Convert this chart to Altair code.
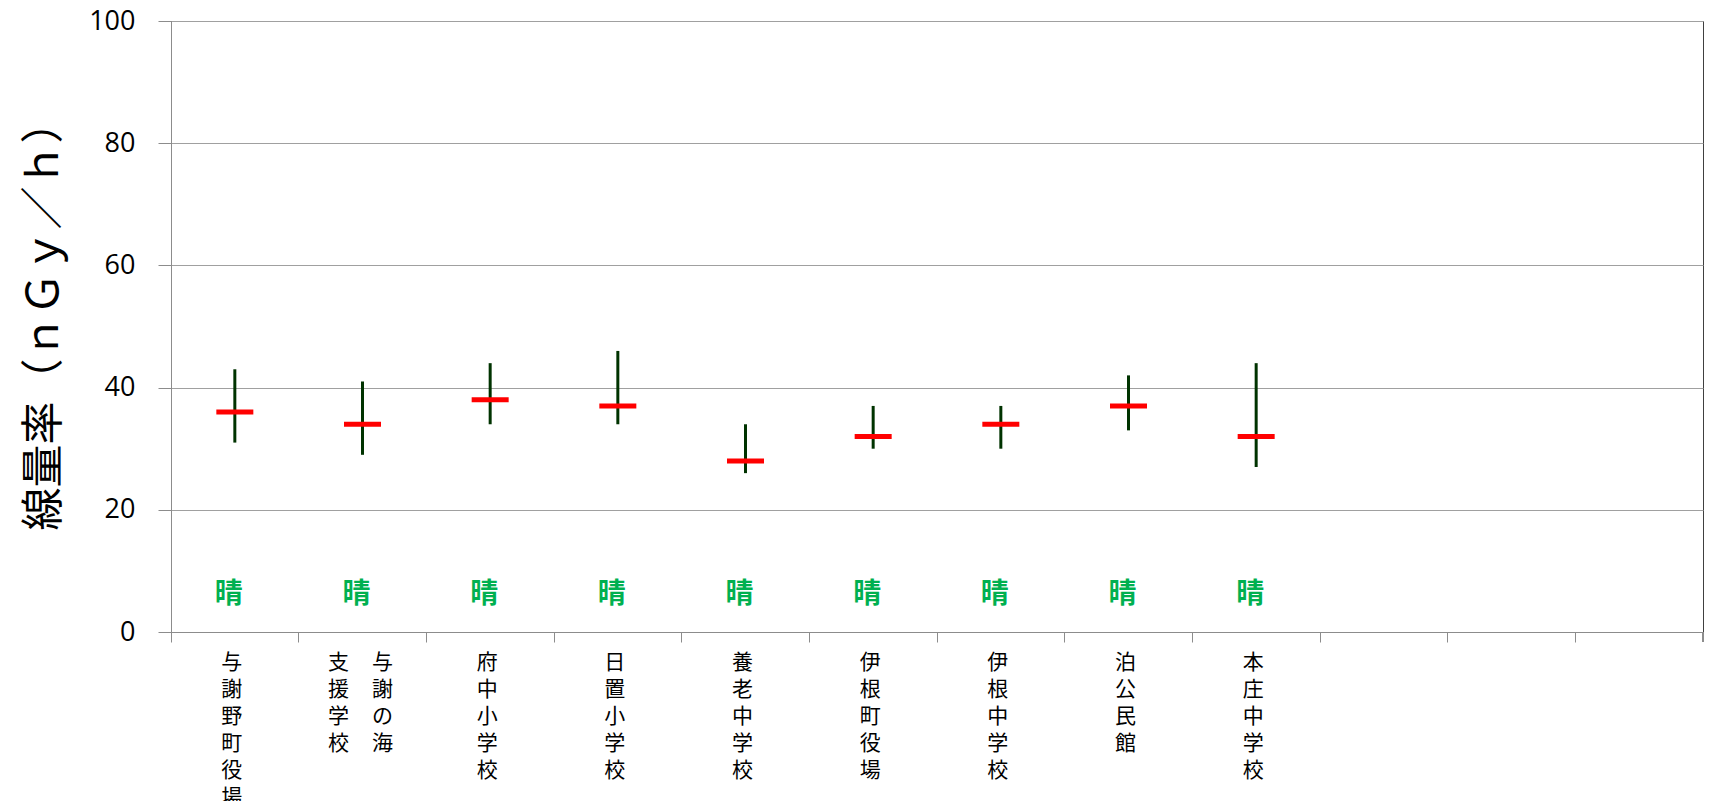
import altair as alt
import pandas as pd

sites = ["与謝野町役場", "与謝の海支援学校", "府中小学校", "日置小学校", "養老中学校",
         "伊根町役場", "伊根中学校", "泊公民館", "本庄中学校"]
blank_slots = ["空1", "空2", "空3"]
max_vals = [43, 41, 44, 46, 34, 37, 37, 42, 44]
min_vals = [31, 29, 34, 34, 26, 30, 30, 33, 27]
mean_vals = [36, 34, 38, 37, 28, 32, 34, 37, 32]
weather = ["晴"] * 9
weather_y = 6
# label columns (vertical writing, right-to-left)
label_cols = {
    "与謝野町役場": [("与謝野町役場", "c")],
    "与謝の海支援学校": [("与謝の海", "r"), ("支援学校", "l")],
    "府中小学校": [("府中小学校", "c")],
    "日置小学校": [("日置小学校", "c")],
    "養老中学校": [("養老中学校", "c")],
    "伊根町役場": [("伊根町役場", "c")],
    "伊根中学校": [("伊根中学校", "c")],
    "泊公民館": [("泊公民館", "c")],
    "本庄中学校": [("本庄中学校", "c")],
}

W, H = 1532, 611
domain = sites + blank_slots

df = pd.DataFrame({"site": sites, "max": max_vals, "min": min_vals,
                   "mean": mean_vals, "weather": weather, "wy": [weather_y] * 9})

rows = []
for s, cols in label_cols.items():
    for txt, g in cols:
        rows.append({"site": s, "txt": "\n".join(list(txt)), "grp": g})
ldf = pd.DataFrame(rows)

xenc = alt.X("site:N", scale=alt.Scale(domain=domain, paddingInner=0, paddingOuter=0),
             sort=domain,
             axis=alt.Axis(labels=False, title=None, ticks=True, tickSize=10,
                           bandPosition=0, tickColor="#8c8c8c", domainColor="#8c8c8c",
                           grid=False))
yscale = alt.Scale(domain=[0, 100], nice=False)
yaxis = alt.Axis(values=[0, 20, 40, 60, 80, 100], title="線量率（ｎＧｙ／ｈ）",
                 titleFont="Noto Sans CJK JP", titleFontSize=43, titleFontWeight="normal",
                 titleColor="#000000", titleX=-127, titleY=294, titleAngle=-90,
                 titleAlign="center", titleBaseline="middle",
                 labelFont="Open Sans", labelFontSize=27, labelColor="#000000",
                 labelPadding=23, tickSize=13, tickColor="#8c8c8c",
                 domainColor="#8c8c8c", gridColor="#a0a0a0", grid=True)

base = alt.Chart(df)

rules = base.mark_rule(color="#003300", strokeWidth=3, opacity=1).encode(
    x=xenc,
    y=alt.Y("min:Q", scale=yscale, axis=yaxis),
    y2="max:Q",
)
ticks = base.mark_tick(color="#ff0000", thickness=5, size=37, orient="horizontal",
                       opacity=1).encode(
    x=alt.X("site:N", sort=domain), y=alt.Y("mean:Q", scale=yscale))
wtext = base.mark_text(color="#00b050", font="Noto Sans CJK JP", fontSize=28, dx=-6,
                       fontWeight="bold", baseline="middle").encode(
    x=alt.X("site:N", sort=domain), y=alt.Y("wy:Q", scale=yscale), text="weather:N")

layers = [rules, ticks, wtext]
for g, dx in [("c", -3), ("r", 20), ("l", -24)]:
    layers.append(
        alt.Chart(ldf).transform_filter(alt.datum.grp == g).mark_text(
            font="Noto Sans CJK JP", fontSize=21, lineBreak="\n", lineHeight=27,
            baseline="top", align="center", dx=dx, color="#000000"
        ).encode(x=alt.X("site:N", sort=domain), y=alt.value(H + 20), text="txt:N")
    )
endtick = alt.Chart(df).mark_rule(color="#8c8c8c").encode(
    x=alt.value(W), y=alt.value(H), y2=alt.value(H + 10))
layers.append(endtick)

chart = alt.layer(*layers).properties(
    width=W, height=H,
    autosize=alt.AutoSizeParams(type="none"),
    padding={"left": 163, "top": 13, "right": 1, "bottom": 169},
).configure_view(stroke="#404040", strokeWidth=1)

chart.save("out.html", embed_options={"renderer": "svg", "actions": False})
